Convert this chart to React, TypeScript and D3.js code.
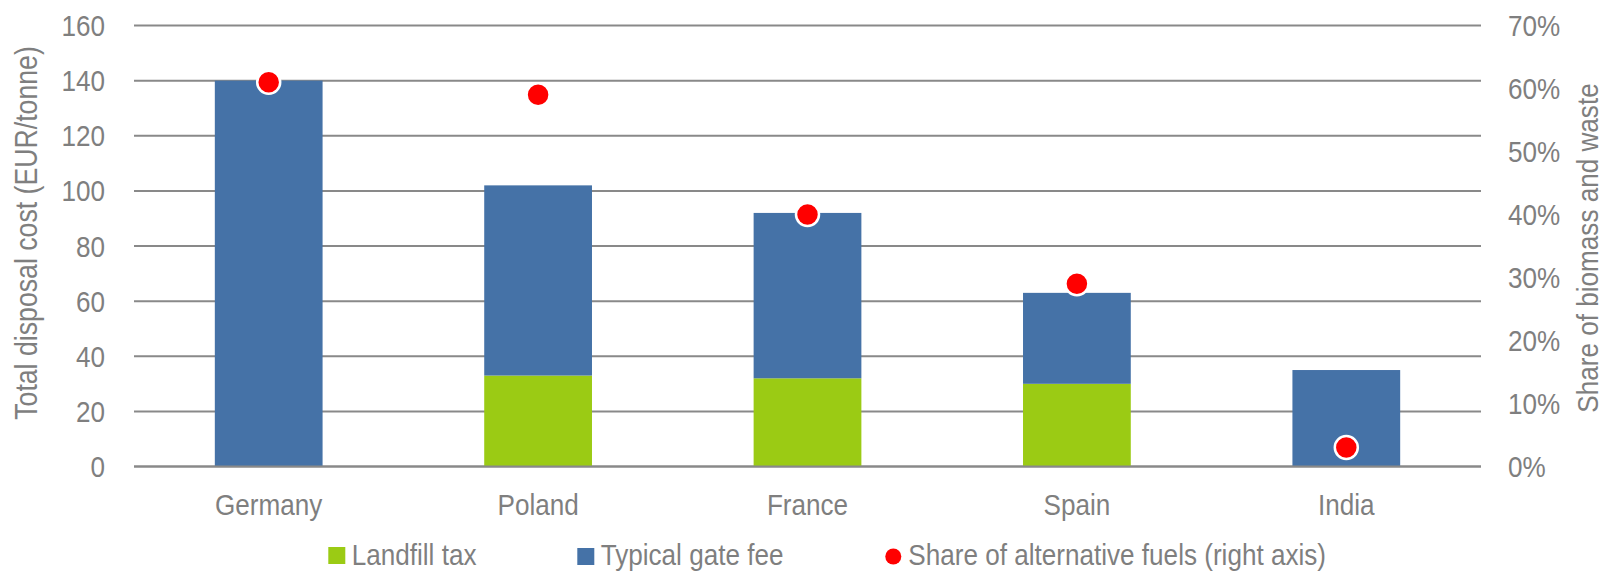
import React from "react";
import * as d3 from "d3";

const countries = ["Germany", "Poland", "France", "Spain", "India"];
const landfillTax = [0, 33, 32, 30, 0];
const gateFee = [140, 69, 60, 33, 35];
const altFuelShare = [0.61, 0.59, 0.40, 0.29, 0.03];
const leftTicks = [0, 20, 40, 60, 80, 100, 120, 140, 160];
const rightTicks = [0, 0.1, 0.2, 0.3, 0.4, 0.5, 0.6, 0.7];

const W = 1604;
const H = 571;
const FONT = "'Liberation Sans', Arial, sans-serif";
const TEXT = "#7f7f7f";
const GRID = "#898989";
const GREEN = "#9bcb14";
const BLUE = "#4572a7";
const RED = "#ff0000";
const FS = 29.5;
const SX = 0.885;

function Txt({ x, y, anchor = "start", rotate = 0, size = FS, sx = SX, children }: any) {
  return (
    <text
      transform={`translate(${x},${y}) rotate(${rotate}) scale(${sx},1)`}
      textAnchor={anchor}
      fontFamily={FONT}
      fontSize={size}
      fill={TEXT}
    >
      {children}
    </text>
  );
}

export default function App() {
  const x = d3
    .scaleBand<string>()
    .domain(countries)
    .range([134, 1481])
    .paddingInner(0.6)
    .paddingOuter(0.3);
  const y = d3.scaleLinear().domain([0, 160]).range([466.5, 25.5]);
  const yR = d3.scaleLinear().domain([0, 0.7]).range([466.5, 25.5]);
  const pct = d3.format(".0%");
  const capHalf = FS * 0.358;

  const stacked = d3.stack<number>().keys(["tax", "fee"])(
    countries.map((_, i) => ({ tax: landfillTax[i], fee: gateFee[i] })) as any
  );
  const colors = [GREEN, BLUE];

  return (
    <svg
      width={W}
      height={H}
      style={{ position: "absolute", left: 0, top: 0, background: "#fff" }}
    >
      {/* gridlines */}
      {leftTicks.map((t) => (
        <line key={t} x1={134} x2={1481} y1={y(t)} y2={y(t)} stroke={GRID} strokeWidth={2} />
      ))}

      {/* stacked bars */}
      {stacked.map((layer, li) =>
        layer.map((d, i) => {
          const h = y(d[0]) - y(d[1]);
          if (h <= 0) return null;
          return (
            <rect
              key={`${li}-${i}`}
              x={x(countries[i])!}
              y={y(d[1])}
              width={x.bandwidth()}
              height={h}
              fill={colors[li]}
            />
          );
        })
      )}

      {/* baseline */}
      <line x1={134} x2={1481} y1={y(0)} y2={y(0)} stroke={GRID} strokeWidth={2} />

      {/* share dots */}
      {altFuelShare.map((v, i) => (
        <circle
          key={countries[i]}
          cx={x(countries[i])! + x.bandwidth() / 2}
          cy={yR(v)}
          r={11.5}
          fill={RED}
          stroke="#fff"
          strokeWidth={2.5}
        />
      ))}

      {/* left axis labels */}
      {leftTicks.map((t) => (
        <Txt key={t} x={105} y={y(t) + capHalf} anchor="end">
          {t}
        </Txt>
      ))}
      {/* right axis labels */}
      {rightTicks.map((t) => (
        <Txt key={t} x={1508} y={yR(t) + capHalf}>
          {pct(t)}
        </Txt>
      ))}

      {/* category labels */}
      {countries.map((c) => (
        <Txt key={c} x={x(c)! + x.bandwidth() / 2} y={515} anchor="middle">
          {c}
        </Txt>
      ))}

      {/* axis titles */}
      <Txt x={37} y={233} anchor="middle" rotate={-90} size={30.5} sx={0.875}>
        Total disposal cost (EUR/tonne)
      </Txt>
      <Txt x={1598} y={248} anchor="middle" rotate={-90}>
        Share of biomass and waste
      </Txt>

      {/* legend */}
      <rect x={328.3} y={547} width={17} height={17} fill={GREEN} />
      <Txt x={351.7} y={565}>Landfill tax</Txt>
      <rect x={577.3} y={548} width={17} height={17} fill={BLUE} />
      <Txt x={600.7} y={565}>Typical gate fee</Txt>
      <circle cx={893.3} cy={556.5} r={8} fill={RED} />
      <Txt x={908.3} y={565}>Share of alternative fuels (right axis)</Txt>
    </svg>
  );
}
